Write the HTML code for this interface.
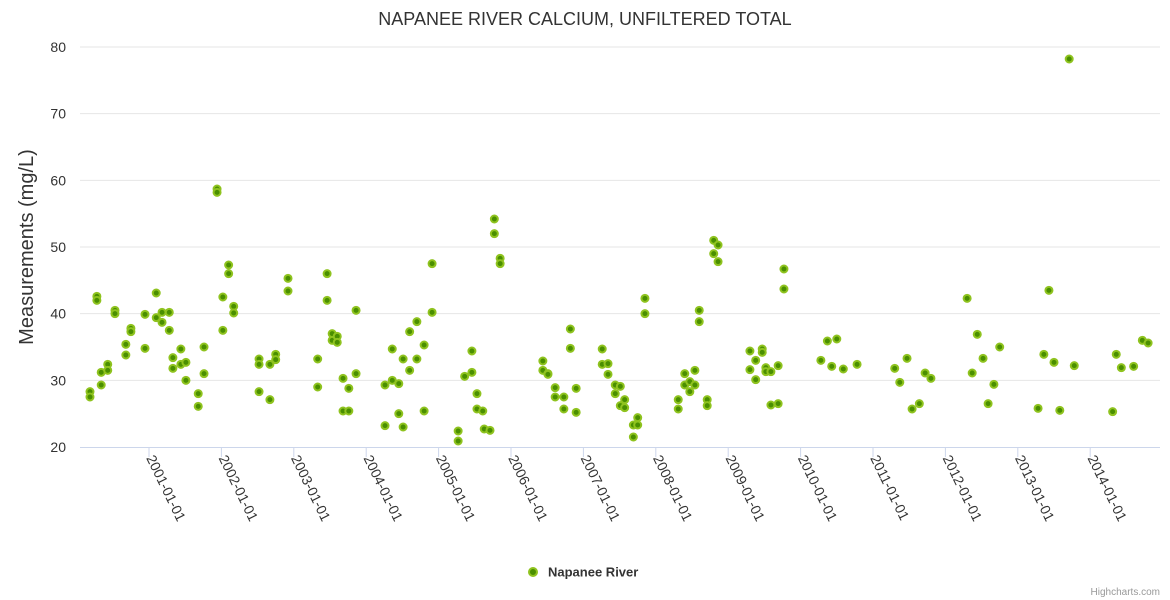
<!DOCTYPE html>
<html><head><meta charset="utf-8"><style>
body{margin:0;background:#fff;}
svg{display:block;font-family:"Liberation Sans",sans-serif;}
</style></head><body>
<svg id="chart" width="1170" height="600">
<text x="585" y="25" text-anchor="middle" font-size="18" fill="#333">NAPANEE RIVER CALCIUM, UNFILTERED TOTAL</text>
<text transform="translate(33,247) rotate(-90)" text-anchor="middle" font-size="20" fill="#333">Measurements (mg/L)</text>
<g id="grid"></g><g id="xaxis"></g><g id="pts"></g>
<g>
<circle cx="533" cy="572" r="4" fill="#4a8f00" stroke="#8fc31f" stroke-width="2"/>
<text x="548" y="576.5" font-size="13" font-weight="bold" fill="#333">Napanee River</text>
</g>
<text x="1160" y="595" text-anchor="end" font-size="10" fill="#999">Highcharts.com</text>
</svg>
<script>
const dates=[2000.185,2000.185,2000.28,2000.28,2000.34,2000.34,2000.43,2000.43,2000.53,2000.53,2000.68,2000.68,2000.75,2000.75,2000.945,2000.945,2001.10,2001.10,2001.18,2001.18,2001.28,2001.28,2001.33,2001.33,2001.44,2001.44,2001.51,2001.51,2001.68,2001.68,2001.76,2001.76,2001.94,2001.94,2002.02,2002.02,2002.10,2002.10,2002.17,2002.17,2002.52,2002.52,2002.52,2002.67,2002.67,2002.75,2002.75,2002.92,2002.92,2003.33,2003.33,2003.46,2003.46,2003.53,2003.53,2003.60,2003.60,2003.68,2003.68,2003.76,2003.76,2003.86,2003.86,2004.26,2004.26,2004.36,2004.36,2004.45,2004.45,2004.51,2004.51,2004.60,2004.60,2004.70,2004.70,2004.80,2004.80,2004.91,2004.91,2005.27,2005.27,2005.36,2005.46,2005.46,2005.53,2005.53,2005.61,2005.63,2005.71,2005.77,2005.77,2005.85,2005.85,2006.44,2006.44,2006.51,2006.51,2006.61,2006.61,2006.73,2006.73,2006.82,2006.82,2006.90,2006.90,2007.26,2007.26,2007.34,2007.34,2007.44,2007.44,2007.51,2007.51,2007.57,2007.57,2007.69,2007.69,2007.75,2007.75,2007.85,2007.85,2008.31,2008.31,2008.40,2008.40,2008.47,2008.47,2008.54,2008.54,2008.60,2008.60,2008.71,2008.71,2008.80,2008.80,2008.86,2008.86,2009.30,2009.30,2009.38,2009.38,2009.47,2009.47,2009.52,2009.52,2009.59,2009.59,2009.69,2009.69,2009.77,2009.77,2010.28,2010.37,2010.43,2010.50,2010.59,2010.78,2011.30,2011.37,2011.47,2011.54,2011.64,2011.72,2011.80,2012.30,2012.37,2012.44,2012.52,2012.59,2012.67,2012.75,2013.28,2013.36,2013.43,2013.50,2013.58,2013.71,2013.78,2014.31,2014.36,2014.43,2014.60,2014.72,2014.80];
const values=[28.3,27.5,42.6,42,29.3,31.2,32.4,31.5,40.5,40,35.4,33.8,37.8,37.3,39.9,34.8,43.1,39.4,40.2,38.7,40.2,37.5,33.4,31.8,34.7,32.4,32.7,30,28,26.1,35,31,58.7,58.2,42.5,37.5,47.3,46,41.1,40.1,33.2,32.4,28.3,32.4,27.1,33.9,33.1,45.3,43.4,33.2,29,46,42,37,36,36.6,35.7,30.3,25.4,28.8,25.4,40.5,31,29.3,23.2,34.7,30,29.5,25,33.2,23,37.3,31.5,38.8,33.2,35.3,25.4,47.5,40.2,22.4,20.9,30.6,34.4,31.2,28,25.7,25.4,22.7,22.5,54.2,52,48.3,47.5,32.9,31.5,31,30.9,28.9,27.5,27.5,25.7,37.7,34.8,28.8,25.2,34.7,32.4,32.5,30.9,29.3,28,29.1,26.2,27.1,25.9,23.3,21.5,24.4,23.3,42.3,40,27.1,25.7,31,29.3,29.8,28.3,31.5,29.3,40.5,38.8,27.1,26.2,51,49,50.3,47.8,34.4,31.6,33,30.1,34.7,34.2,31.9,31.3,31.3,26.3,32.2,26.5,46.7,43.7,33,35.9,32.1,36.2,31.7,32.4,31.8,29.7,33.3,25.7,26.5,31.1,30.3,42.3,31.1,36.9,33.3,26.5,29.4,35,25.8,33.9,43.5,32.7,25.5,78.2,32.2,25.3,33.9,31.9,32.1,36,35.6];
const yTicks=[20,30,40,50,60,70,80];
const xTicks=["2001-01-01","2002-01-01","2003-01-01","2004-01-01","2005-01-01","2006-01-01","2007-01-01","2008-01-01","2009-01-01","2010-01-01","2011-01-01","2012-01-01","2013-01-01","2014-01-01"];
const NS="http://www.w3.org/2000/svg";
const L=80,R=1160,T=47,B=447;
function xs(yr){return 149+(yr-2001)*72.4;}
function ys(v){return B-(v-20)/60*(B-T);}
function mk(tag,at,parent){const e=document.createElementNS(NS,tag);for(const k in at)e.setAttribute(k,at[k]);parent.appendChild(e);return e;}
const grid=document.getElementById('grid'),xa=document.getElementById('xaxis'),pts=document.getElementById('pts');
yTicks.forEach(v=>{
 if(v>20){const g=mk('line',{x1:L,x2:R,y1:ys(v),y2:ys(v),stroke:'#e6e6e6','stroke-width':1},grid);
 
 }
 const t=mk('text',{x:66,y:ys(v)+5,'text-anchor':'end','font-size':14,fill:'#333'},grid);t.textContent=v;
 
 
});
const ax=mk('line',{x1:L,x2:R,y1:B+0.5,y2:B+0.5,stroke:'#ccd6eb','stroke-width':1},xa);


xTicks.forEach(s=>{
 const x=xs(parseInt(s));
 const tk=mk('line',{x1:x,x2:x,y1:B,y2:B+10,stroke:'#ccd6eb'},xa);
 
 
 const t=mk('text',{transform:'translate('+(x-3)+','+(B+11)+') rotate(64)','font-size':14,fill:'#333'},xa);t.textContent=s;
 
 
});
dates.forEach((d,i)=>{
 const c=mk('circle',{cx:xs(d),cy:ys(values[i]),r:3.5,fill:'#4a8f00',stroke:'#8fc31f','stroke-width':2},pts);
 
 
});
</script>
</body></html>
